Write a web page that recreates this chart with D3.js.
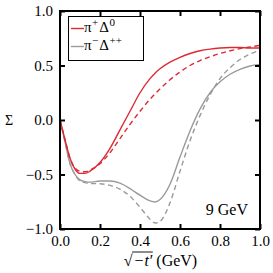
<!DOCTYPE html>
<html>
<head>
<meta charset="utf-8">
<title>Sigma 9 GeV</title>
<script src="https://d3js.org/d3.v7.min.js"></script>
<style>
  body { margin: 0; background: white; }
  text { font-family: "Liberation Serif", "DejaVu Serif", serif; }
</style>
</head>
<body>
<div id="chart"></div>
<script>
// sqrt(-t') grid
var xs = [0, 0.025, 0.05, 0.075, 0.1, 0.125, 0.15, 0.2, 0.25, 0.3, 0.35, 0.4, 0.45, 0.475, 0.5,
          0.55, 0.6, 0.65, 0.7, 0.75, 0.8, 0.85, 0.9, 0.95, 1.0];

var redSolid  = [0, -0.18, -0.35, -0.45, -0.49, -0.49, -0.47, -0.39, -0.26, -0.09, 0.08, 0.25, 0.38, 0.43, 0.47,
                 0.53, 0.575, 0.61, 0.635, 0.65, 0.66, 0.665, 0.665, 0.66, 0.66];
var redDashed = [0, -0.18, -0.35, -0.44, -0.47, -0.475, -0.46, -0.40, -0.30, -0.17, -0.04, 0.08, 0.19, 0.24, 0.285,
                 0.37, 0.44, 0.50, 0.545, 0.58, 0.61, 0.635, 0.655, 0.67, 0.685];
var graySolid = [0, -0.2, -0.4, -0.5, -0.55, -0.565, -0.57, -0.56, -0.56, -0.58, -0.63, -0.69, -0.742, -0.752, -0.73,
                 -0.59, -0.34, -0.1, 0.1, 0.25, 0.35, 0.42, 0.465, 0.495, 0.51];
var grayDashed = [0, -0.2, -0.4, -0.5, -0.56, -0.575, -0.583, -0.585, -0.6, -0.635, -0.7, -0.8, -0.91, -0.945, -0.93,
                  -0.76, -0.47, -0.19, 0.04, 0.23, 0.38, 0.48, 0.555, 0.605, 0.64];

var xTicks = [0, 0.2, 0.4, 0.6, 0.8, 1.0];
var yTicks = [-1.0, -0.5, 0, 0.5, 1.0];
var legendLabels = [["π", "+", "Δ", "0"], ["π", "−", "Δ", "++"]];

var red = "#dc2a33", gray = "#9a9a9a";

var W = 273, H = 273;
var margin = {left: 60, right: 13, top: 11, bottom: 44};

var svg = d3.select("#chart").append("svg").attr("width", W).attr("height", H);

var x = d3.scaleLinear().domain([0, 1]).range([margin.left, W - margin.right]);
var y = d3.scaleLinear().domain([-1, 1]).range([H - margin.bottom, margin.top]);

var line = d3.line().x(function(d) { return x(d[0]); }).y(function(d) { return y(d[1]); })
    .curve(d3.curveMonotoneX);

svg.append("clipPath").attr("id", "clip").append("rect")
    .attr("x", x(0)).attr("y", y(1)).attr("width", x(1) - x(0)).attr("height", y(-1) - y(1));

var g = svg.append("g").attr("clip-path", "url(#clip)");

function draw(vals, color, dashed) {
  g.append("path")
    .datum(xs.map(function(v, i) { return [v, vals[i]]; }))
    .attr("d", line)
    .attr("fill", "none")
    .attr("stroke", color)
    .attr("stroke-width", 1.4)
    .attr("stroke-dasharray", dashed ? "5,3.5" : null);
}
draw(grayDashed, gray, true);
draw(graySolid, gray, false);
draw(redDashed, red, true);
draw(redSolid, red, false);

// axes with inward ticks on all four sides
var fmt = function(d) { return d3.format(".1f")(d).replace("-", "−"); };
var axBottom = svg.append("g").attr("transform", "translate(0," + y(-1) + ")")
    .call(d3.axisBottom(x).tickValues(xTicks).tickSize(-5).tickPadding(6).tickFormat(fmt));
var axTop = svg.append("g").attr("transform", "translate(0," + y(1) + ")")
    .call(d3.axisTop(x).tickValues(xTicks).tickSize(-5).tickFormat(""));
var axLeft = svg.append("g").attr("transform", "translate(" + x(0) + ",0)")
    .call(d3.axisLeft(y).tickValues(yTicks).tickSize(-5).tickPadding(7).tickFormat(fmt));
var axRight = svg.append("g").attr("transform", "translate(" + x(1) + ",0)")
    .call(d3.axisRight(y).tickValues(yTicks).tickSize(-5).tickFormat(""));

[axBottom, axTop, axLeft, axRight].forEach(function(a) {
  a.select(".domain").remove();
  a.selectAll(".tick line").attr("stroke", "black").attr("stroke-width", 2);
  a.selectAll("text").attr("font-family", "Liberation Serif, serif").attr("font-size", 15).attr("fill", "black");
});

svg.append("rect")
  .attr("x", x(0)).attr("y", y(1)).attr("width", x(1) - x(0)).attr("height", y(-1) - y(1))
  .attr("fill", "none").attr("stroke", "black").attr("stroke-width", 2);

// legend
var leg = svg.append("g");
leg.append("rect").attr("x", 68.5).attr("y", 16.5).attr("width", 75).attr("height", 44)
  .attr("fill", "white").attr("stroke", "black").attr("stroke-width", 1);
[red, gray].forEach(function(c, i) {
  var ly = 28.5 + i * 18;
  leg.append("line").attr("x1", 71).attr("x2", 84).attr("y1", ly).attr("y2", ly)
    .attr("stroke", c).attr("stroke-width", 1.4);
  var t = leg.append("text").attr("x", 84).attr("y", ly + 3.5).attr("font-size", 15);
  var p = legendLabels[i];
  t.append("tspan").text(p[0]);
  t.append("tspan").attr("font-size", 11).attr("dy", -6).attr("dx", 0.5).text(p[1]);
  t.append("tspan").attr("dy", 6).attr("dx", 1).text(p[2]);
  t.append("tspan").attr("font-size", 11).attr("dy", -6).attr("dx", 0.5).text(p[3]);
});

svg.append("text").attr("x", 248).attr("y", 215).attr("text-anchor", "end")
  .attr("font-size", 16).text("9 GeV");

svg.append("text").attr("x", 9).attr("y", 125).attr("text-anchor", "middle")
  .attr("font-size", 14).text("Σ");

// x label: sqrt(-t') (GeV)
var xl = svg.append("g").attr("font-size", 16);
var rad = xl.append("text").attr("y", 266).text("√");
var arg = xl.append("text").attr("y", 266).attr("font-style", "italic").text("−t′");
var unit = xl.append("text").attr("y", 266).text("(GeV)");
var wR = rad.node().getComputedTextLength(), wA = arg.node().getComputedTextLength(),
    wU = unit.node().getComputedTextLength();
var gap = 4;
var x0 = 160 - (wR + wA + gap + wU) / 2;
rad.attr("x", x0);
arg.attr("x", x0 + wR + 1);
unit.attr("x", x0 + wR + 1 + wA + gap);
xl.append("line").attr("x1", x0 + wR - 0.5).attr("x2", x0 + wR + wA + 1.5)
  .attr("y1", 252).attr("y2", 252).attr("stroke", "black").attr("stroke-width", 0.9);
</script>
</body>
</html>
